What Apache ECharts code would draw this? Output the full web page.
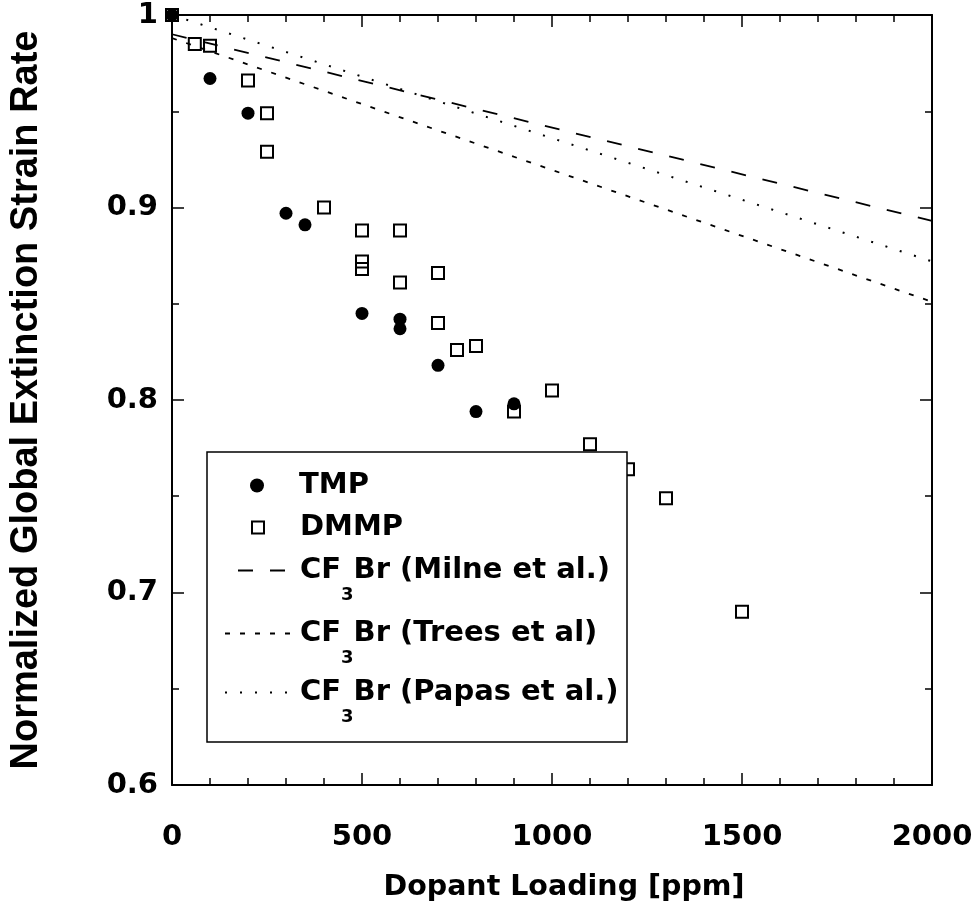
<!DOCTYPE html>
<html>
<head>
<meta charset="utf-8">
<script src="https://cdn.jsdelivr.net/npm/echarts@6/dist/echarts.min.js"></script>
<style>
  html, body { margin: 0; padding: 0; background: #fff; }
  #chart { width: 976px; height: 916px; }
</style>
</head>
<body>
<div id="chart"></div>
<script>
// axis ticks
var xTicks = [0, 500, 1000, 1500, 2000];
var yTicks = [0.6, 0.7, 0.8, 0.9, 1];

// TMP (filled circles)
var tmpX = [0, 100, 200, 300, 350, 500, 600, 600, 700, 800, 900];
var tmpY = [1.0, 0.967, 0.949, 0.897, 0.891, 0.845, 0.842, 0.837, 0.818, 0.794, 0.798];

// DMMP (open squares)
var dmmpX = [0, 60, 100, 200, 250, 250, 400, 500, 500, 500, 600, 600, 700, 700, 750, 800, 900, 1000, 1100, 1200, 1300, 1500];
var dmmpY = [1.0, 0.985, 0.984, 0.966, 0.949, 0.929, 0.900, 0.888, 0.872, 0.868, 0.888, 0.861, 0.866, 0.840, 0.826, 0.828, 0.794, 0.805, 0.777, 0.764, 0.749, 0.690];

// CF3Br reference lines
var lineX = [0, 2000];
var milneY = [0.990, 0.893];
var treesY = [0.988, 0.851];
var papasY = [1.000, 0.872];

var names = ['TMP', 'DMMP', 'CF3Br (Milne et al.)', 'CF3Br (Trees et al)', 'CF3Br (Papas et al.)'];

function pairs(xs, ys) {
  return xs.map(function (x, i) { return [x, ys[i]]; });
}

var labelFont = { color: '#000', fontFamily: 'DejaVu Sans', fontWeight: 'bold', fontSize: 29 };
var tickStyle = { color: '#000', width: 1.5 };

function xAxisOf(pos, showLabel) {
  return {
    type: 'value',
    position: pos,
    min: xTicks[0],
    max: xTicks[xTicks.length - 1],
    interval: xTicks[1] - xTicks[0],
    axisLine: { show: true, onZero: false, lineStyle: { color: '#000', width: 2 } },
    axisTick: { show: true, inside: true, length: 12, lineStyle: tickStyle },
    minorTick: { show: true, splitNumber: 5, length: 7, lineStyle: tickStyle },
    splitLine: { show: false },
    minorSplitLine: { show: false },
    axisLabel: Object.assign({
      show: showLabel, margin: 38,
      formatter: function (v) { return String(v); }
    }, labelFont)
  };
}

function yAxisOf(pos, showLabel) {
  return {
    type: 'value',
    position: pos,
    min: yTicks[0],
    max: yTicks[yTicks.length - 1],
    interval: 0.1,
    axisLine: { show: true, onZero: false, lineStyle: { color: '#000', width: 2 } },
    axisTick: { show: true, inside: true, length: 12, lineStyle: tickStyle },
    minorTick: { show: true, splitNumber: 2, length: 7, lineStyle: tickStyle },
    splitLine: { show: false },
    minorSplitLine: { show: false },
    axisLabel: Object.assign({ show: showLabel, margin: 14 }, labelFont)
  };
}

var xBottom = xAxisOf('bottom', true);
xBottom.name = 'Dopant Loading [ppm]';
xBottom.nameLocation = 'middle';
xBottom.nameGap = 88;
xBottom.nameTextStyle = {
  color: '#000', fontFamily: 'DejaVu Sans', fontWeight: 'bold', fontSize: 28.5,
  padding: [0, 0, 0, 24]
};

var yLeft = yAxisOf('left', true);
yLeft.name = 'Normalized Global Extinction Strain Rate';
yLeft.nameLocation = 'middle';
yLeft.nameGap = 126;
yLeft.nameTextStyle = { color: '#000', fontFamily: 'Liberation Sans', fontWeight: 'bold', fontSize: 38 };

var richText = {
  n: { color: '#000', fontFamily: 'DejaVu Sans', fontWeight: 'bold', fontSize: 29 },
  s: { color: '#000', fontFamily: 'DejaVu Sans', fontWeight: 'bold', fontSize: 18, padding: [50, 0, 0, 0] }
};

function legendFor(name, left, top, w, h, padLeft, hideSymbol) {
  return {
    data: [name],
    orient: 'vertical',
    left: left,
    top: top,
    padding: 0,
    itemWidth: w,
    itemHeight: h,
    selectedMode: false,
    itemStyle: hideSymbol ? { opacity: 0 } : {},
    formatter: function (n) {
      if (n.indexOf('CF3Br') === 0) {
        return '{n|CF}{s|3}{n|' + n.slice(3) + '}';
      }
      return '{n|' + n + '}';
    },
    textStyle: { padding: [0, 0, 0, padLeft], rich: richText }
  };
}

var chart = echarts.init(document.getElementById('chart'));
chart.setOption({
  animation: false,
  backgroundColor: '#fff',
  grid: { left: 172, right: 44, top: 15, bottom: 131, outerBoundsMode: 'none', containLabel: false },
  xAxis: [xBottom, xAxisOf('top', false)],
  yAxis: [yLeft, yAxisOf('right', false)],
  graphic: [{
    type: 'rect',
    z: 3,
    shape: { x: 207, y: 452, width: 420, height: 290 },
    style: { fill: '#fff', stroke: '#000', lineWidth: 1.5 }
  }],
  legend: [
    legendFor(names[0], 250, 471, 14, 14, 30, false),
    legendFor(names[1], 251, 513, 12, 12, 31, false),
    legendFor(names[2], 237, 556, 48, 14, 9, true),
    legendFor(names[3], 224, 619, 66, 14, 4, true),
    legendFor(names[4], 224, 678, 66, 14, 4, true)
  ],
  series: [
    {
      name: names[2], type: 'line', data: pairs(lineX, milneY),
      symbol: 'none', itemStyle: { color: '#000' },
      lineStyle: { color: '#000', width: 1.8, type: [15, 17] }
    },
    {
      name: names[3], type: 'line', data: pairs(lineX, treesY),
      symbol: 'none', itemStyle: { color: '#000' },
      lineStyle: { color: '#000', width: 1.8, type: [5, 10] }
    },
    {
      name: names[4], type: 'line', data: pairs(lineX, papasY),
      symbol: 'none', itemStyle: { color: '#000' },
      lineStyle: { color: '#000', width: 2, type: [2, 13] }
    },
    {
      name: names[1], type: 'scatter', data: pairs(dmmpX, dmmpY),
      symbol: 'rect', symbolSize: 12, clip: false,
      itemStyle: { color: 'rgba(0,0,0,0)', borderColor: '#000', borderWidth: 2, opacity: 1 }
    },
    {
      name: names[0], type: 'scatter', data: pairs(tmpX, tmpY),
      symbol: 'circle', symbolSize: 13, clip: false,
      itemStyle: { color: '#000', opacity: 1 }
    }
  ]
});
</script>
</body>
</html>
